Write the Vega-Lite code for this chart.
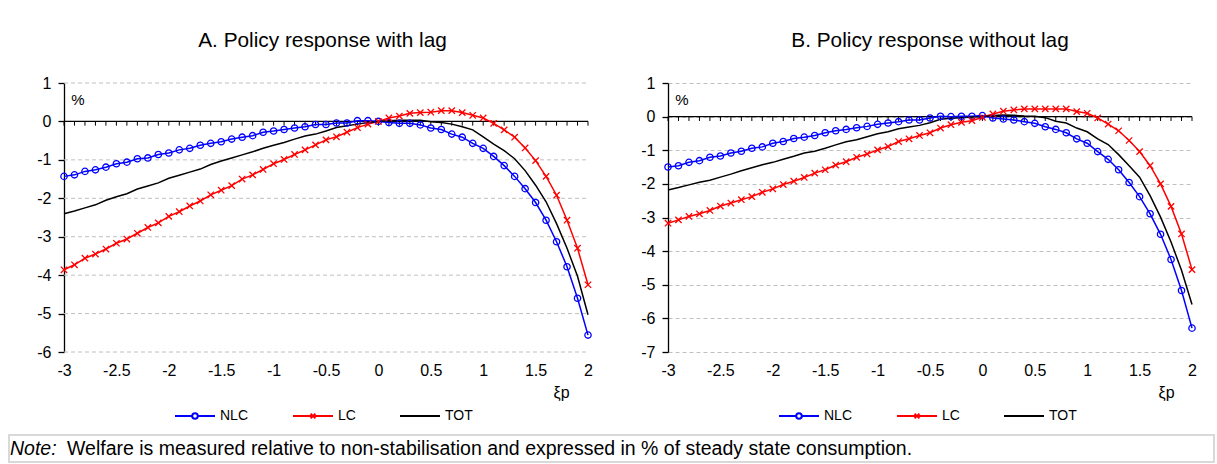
{
  "$schema": "https://vega.github.io/schema/vega-lite/v6.json",
  "background": "white",
  "padding": {"left": 8, "top": 30, "right": 4, "bottom": 2},
  "config": {
    "font": "Liberation Sans",
    "view": {"stroke": null},
    "axis": {"labelFont": "Liberation Sans", "labelFontSize": 16, "labelColor": "black", "titleFont": "Liberation Sans", "titleFontWeight": "normal", "titleColor": "black"},
    "title": {"font": "Liberation Sans", "fontSize": 20.8, "fontWeight": "normal", "color": "black"},
    "legend": {"labelFont": "Liberation Sans", "labelColor": "black"},
    "text": {"font": "Liberation Sans", "color": "black"}
  },
  "datasets": {
    "A": [
      {"x": -3.0, "NLC": -1.43, "LC": -3.86, "TOT": -2.40},
      {"x": -2.9, "NLC": -1.39, "LC": -3.73, "TOT": -2.33},
      {"x": -2.8, "NLC": -1.30, "LC": -3.56, "TOT": -2.25},
      {"x": -2.7, "NLC": -1.26, "LC": -3.45, "TOT": -2.17},
      {"x": -2.6, "NLC": -1.19, "LC": -3.32, "TOT": -2.05},
      {"x": -2.5, "NLC": -1.10, "LC": -3.17, "TOT": -1.96},
      {"x": -2.4, "NLC": -1.06, "LC": -3.06, "TOT": -1.88},
      {"x": -2.3, "NLC": -0.97, "LC": -2.91, "TOT": -1.76},
      {"x": -2.2, "NLC": -0.95, "LC": -2.76, "TOT": -1.68},
      {"x": -2.1, "NLC": -0.86, "LC": -2.64, "TOT": -1.60},
      {"x": -2.0, "NLC": -0.82, "LC": -2.47, "TOT": -1.48},
      {"x": -1.9, "NLC": -0.74, "LC": -2.35, "TOT": -1.40},
      {"x": -1.8, "NLC": -0.70, "LC": -2.20, "TOT": -1.32},
      {"x": -1.7, "NLC": -0.62, "LC": -2.07, "TOT": -1.24},
      {"x": -1.6, "NLC": -0.57, "LC": -1.91, "TOT": -1.12},
      {"x": -1.5, "NLC": -0.53, "LC": -1.79, "TOT": -1.03},
      {"x": -1.4, "NLC": -0.46, "LC": -1.67, "TOT": -0.95},
      {"x": -1.3, "NLC": -0.41, "LC": -1.50, "TOT": -0.87},
      {"x": -1.2, "NLC": -0.37, "LC": -1.39, "TOT": -0.79},
      {"x": -1.1, "NLC": -0.28, "LC": -1.25, "TOT": -0.70},
      {"x": -1.0, "NLC": -0.25, "LC": -1.10, "TOT": -0.62},
      {"x": -0.9, "NLC": -0.21, "LC": -0.99, "TOT": -0.55},
      {"x": -0.8, "NLC": -0.17, "LC": -0.86, "TOT": -0.46},
      {"x": -0.7, "NLC": -0.14, "LC": -0.74, "TOT": -0.38},
      {"x": -0.6, "NLC": -0.08, "LC": -0.61, "TOT": -0.33},
      {"x": -0.5, "NLC": -0.08, "LC": -0.48, "TOT": -0.25},
      {"x": -0.4, "NLC": -0.04, "LC": -0.40, "TOT": -0.16},
      {"x": -0.3, "NLC": -0.04, "LC": -0.28, "TOT": -0.11},
      {"x": -0.2, "NLC": 0.02, "LC": -0.16, "TOT": -0.07},
      {"x": -0.1, "NLC": 0.02, "LC": -0.07, "TOT": -0.03},
      {"x": 0.0, "NLC": 0.00, "LC": 0.00, "TOT": 0.00},
      {"x": 0.1, "NLC": -0.03, "LC": 0.09, "TOT": 0.02},
      {"x": 0.2, "NLC": -0.05, "LC": 0.14, "TOT": 0.03},
      {"x": 0.3, "NLC": -0.05, "LC": 0.21, "TOT": 0.03},
      {"x": 0.4, "NLC": -0.09, "LC": 0.23, "TOT": 0.03},
      {"x": 0.5, "NLC": -0.17, "LC": 0.24, "TOT": -0.01},
      {"x": 0.6, "NLC": -0.21, "LC": 0.28, "TOT": -0.03},
      {"x": 0.7, "NLC": -0.33, "LC": 0.28, "TOT": -0.07},
      {"x": 0.8, "NLC": -0.41, "LC": 0.23, "TOT": -0.14},
      {"x": 0.9, "NLC": -0.57, "LC": 0.16, "TOT": -0.22},
      {"x": 1.0, "NLC": -0.70, "LC": 0.09, "TOT": -0.40},
      {"x": 1.1, "NLC": -0.91, "LC": -0.05, "TOT": -0.59},
      {"x": 1.2, "NLC": -1.15, "LC": -0.22, "TOT": -0.76},
      {"x": 1.3, "NLC": -1.43, "LC": -0.41, "TOT": -0.97},
      {"x": 1.4, "NLC": -1.75, "LC": -0.69, "TOT": -1.28},
      {"x": 1.5, "NLC": -2.11, "LC": -1.02, "TOT": -1.66},
      {"x": 1.6, "NLC": -2.57, "LC": -1.43, "TOT": -2.09},
      {"x": 1.7, "NLC": -3.13, "LC": -1.92, "TOT": -2.66},
      {"x": 1.8, "NLC": -3.78, "LC": -2.57, "TOT": -3.30},
      {"x": 1.9, "NLC": -4.60, "LC": -3.30, "TOT": -4.03},
      {"x": 2.0, "NLC": -5.56, "LC": -4.25, "TOT": -5.03}
    ],
    "B": [
      {"x": -3.0, "NLC": -1.50, "LC": -3.17, "TOT": -2.18},
      {"x": -2.9, "NLC": -1.46, "LC": -3.07, "TOT": -2.11},
      {"x": -2.8, "NLC": -1.36, "LC": -2.97, "TOT": -2.03},
      {"x": -2.7, "NLC": -1.31, "LC": -2.89, "TOT": -1.95},
      {"x": -2.6, "NLC": -1.21, "LC": -2.79, "TOT": -1.89},
      {"x": -2.5, "NLC": -1.17, "LC": -2.66, "TOT": -1.80},
      {"x": -2.4, "NLC": -1.08, "LC": -2.57, "TOT": -1.71},
      {"x": -2.3, "NLC": -1.03, "LC": -2.47, "TOT": -1.61},
      {"x": -2.2, "NLC": -0.94, "LC": -2.38, "TOT": -1.52},
      {"x": -2.1, "NLC": -0.90, "LC": -2.25, "TOT": -1.43},
      {"x": -2.0, "NLC": -0.79, "LC": -2.15, "TOT": -1.36},
      {"x": -1.9, "NLC": -0.74, "LC": -2.02, "TOT": -1.27},
      {"x": -1.8, "NLC": -0.65, "LC": -1.92, "TOT": -1.18},
      {"x": -1.7, "NLC": -0.61, "LC": -1.81, "TOT": -1.08},
      {"x": -1.6, "NLC": -0.56, "LC": -1.68, "TOT": -1.03},
      {"x": -1.5, "NLC": -0.48, "LC": -1.58, "TOT": -0.94},
      {"x": -1.4, "NLC": -0.42, "LC": -1.44, "TOT": -0.84},
      {"x": -1.3, "NLC": -0.38, "LC": -1.34, "TOT": -0.75},
      {"x": -1.2, "NLC": -0.33, "LC": -1.21, "TOT": -0.69},
      {"x": -1.1, "NLC": -0.29, "LC": -1.11, "TOT": -0.60},
      {"x": -1.0, "NLC": -0.23, "LC": -0.99, "TOT": -0.51},
      {"x": -0.9, "NLC": -0.19, "LC": -0.89, "TOT": -0.45},
      {"x": -0.8, "NLC": -0.15, "LC": -0.74, "TOT": -0.36},
      {"x": -0.7, "NLC": -0.10, "LC": -0.66, "TOT": -0.31},
      {"x": -0.6, "NLC": -0.10, "LC": -0.56, "TOT": -0.26},
      {"x": -0.5, "NLC": -0.04, "LC": -0.48, "TOT": -0.18},
      {"x": -0.4, "NLC": 0.01, "LC": -0.34, "TOT": -0.08},
      {"x": -0.3, "NLC": 0.00, "LC": -0.24, "TOT": -0.05},
      {"x": -0.2, "NLC": 0.01, "LC": -0.17, "TOT": -0.03},
      {"x": -0.1, "NLC": 0.01, "LC": -0.12, "TOT": -0.01},
      {"x": 0.0, "NLC": 0.03, "LC": -0.02, "TOT": 0.00},
      {"x": 0.1, "NLC": -0.04, "LC": 0.08, "TOT": 0.03},
      {"x": 0.2, "NLC": -0.07, "LC": 0.16, "TOT": 0.05},
      {"x": 0.3, "NLC": -0.10, "LC": 0.20, "TOT": 0.04},
      {"x": 0.4, "NLC": -0.15, "LC": 0.23, "TOT": 0.02},
      {"x": 0.5, "NLC": -0.20, "LC": 0.23, "TOT": 0.01},
      {"x": 0.6, "NLC": -0.30, "LC": 0.23, "TOT": -0.03},
      {"x": 0.7, "NLC": -0.38, "LC": 0.23, "TOT": -0.14},
      {"x": 0.8, "NLC": -0.48, "LC": 0.23, "TOT": -0.19},
      {"x": 0.9, "NLC": -0.66, "LC": 0.15, "TOT": -0.34},
      {"x": 1.0, "NLC": -0.79, "LC": 0.10, "TOT": -0.45},
      {"x": 1.1, "NLC": -1.04, "LC": -0.04, "TOT": -0.66},
      {"x": 1.2, "NLC": -1.27, "LC": -0.22, "TOT": -0.83},
      {"x": 1.3, "NLC": -1.58, "LC": -0.42, "TOT": -1.13},
      {"x": 1.4, "NLC": -1.96, "LC": -0.71, "TOT": -1.46},
      {"x": 1.5, "NLC": -2.38, "LC": -1.04, "TOT": -1.80},
      {"x": 1.6, "NLC": -2.89, "LC": -1.46, "TOT": -2.35},
      {"x": 1.7, "NLC": -3.50, "LC": -2.00, "TOT": -2.99},
      {"x": 1.8, "NLC": -4.25, "LC": -2.67, "TOT": -3.73},
      {"x": 1.9, "NLC": -5.17, "LC": -3.49, "TOT": -4.57},
      {"x": 2.0, "NLC": -6.29, "LC": -4.55, "TOT": -5.59}
    ]
  },
  "concat": [
    {
      "hconcat": [
        {
          "width": 579,
          "height": 269,
          "title": {"text": "A. Policy response with lag", "frame": "group", "offset": 23, "dx": 24},
          "layer": [
            {
              "data": {"values": [{"g": -6}, {"g": -5}, {"g": -4}, {"g": -3}, {"g": -2}, {"g": -1}, {"g": 1}]},
              "mark": {"type": "rule", "color": "#c0c0c0", "strokeWidth": 1, "strokeDash": [4, 3]},
              "encoding": {
                "x": {"datum": -3, "type": "quantitative", "scale": {"domain": [-3, 2], "range": [55, 579], "nice": false, "zero": false}},
                "x2": {"datum": 2},
                "y": {"field": "g", "type": "quantitative", "scale": {"domain": [-6, 1], "nice": false}}
              }
            },
            {
              "data": {"name": "A"},
              "transform": [{"filter": "datum.x == 2"}],
              "mark": {"type": "rule", "color": "black", "strokeWidth": 1.3},
              "encoding": {
                "x": {"datum": -3, "type": "quantitative", "scale": {"domain": [-3, 2], "range": [55, 579], "nice": false, "zero": false}},
                "x2": {"datum": 2},
                "y": {"datum": 0, "type": "quantitative", "scale": {"domain": [-6, 1], "nice": false}}
              }
            },
            {
              "data": {"name": "A"},
              "mark": {"type": "rule", "color": "black", "strokeWidth": 1},
              "encoding": {
                "x": {"field": "x", "type": "quantitative", "scale": {"domain": [-3, 2], "range": [55, 579], "nice": false, "zero": false}},
                "y": {"datum": 0, "type": "quantitative", "scale": {"domain": [-6, 1], "nice": false}},
                "y2": {"datum": -0.11}
              }
            },
            {
              "data": {"name": "A"},
              "transform": [{"fold": ["NLC", "LC", "TOT"], "as": ["series", "value"]}],
              "mark": {"type": "line", "strokeWidth": 1.5},
              "encoding": {
                "x": {
                  "field": "x", "type": "quantitative",
                  "scale": {"domain": [-3, 2], "range": [55, 579], "nice": false, "zero": false},
                  "axis": {"values": [-3, -2.5, -2, -1.5, -1, -0.5, 0, 0.5, 1, 1.5, 2], "tickCount": 20, "labelExpr": "'' + datum.value", "domain": false, "ticks": false, "grid": false, "labelPadding": 10, "labelFlush": false, "labelOverlap": false, "title": "ξp", "titleFontSize": 16, "titleX": 552, "titleY": 40, "titleAlign": "center", "titleBaseline": "middle"}
                },
                "y": {
                  "field": "value", "type": "quantitative",
                  "scale": {"domain": [-6, 1], "nice": false},
                  "axis": {"values": [-6, -5, -4, -3, -2, -1, 0, 1], "tickCount": 20, "offset": -55, "title": null, "labelExpr": "'' + datum.value", "labelOverlap": false, "domainColor": "black", "domainWidth": 1.3, "tickColor": "black", "tickSize": 6, "tickWidth": 1.3, "labelPadding": 7, "grid": false}
                },
                "color": {
                  "field": "series", "type": "nominal",
                  "scale": {"domain": ["NLC", "LC", "TOT"], "range": ["#0000ff", "#ff0000", "#000000"]},
                  "legend": {
                    "title": null, "orient": "none", "legendX": 165, "legendY": 312, "direction": "horizontal",
                    "symbolSize": 1600, "symbolStrokeWidth": 2, "labelFontSize": 14, "labelOffset": 4, "columnPadding": 40,
                    "encode": {"symbols": {"update": {
                      "shape": {"signal": "datum.value == 'NLC' ? 'M-1,0H-0.14M0.14,0H1M-0.14,0A0.14,0.14,0,1,1,0.14,0A0.14,0.14,0,1,1,-0.14,0' : (datum.value == 'LC' ? 'M-1,0H1M-0.12,-0.12L0.12,0.12M-0.12,0.12L0.12,-0.12' : 'M-1,0H1')"},
                      "fill": {"value": "transparent"}
                    }}}
                  }
                }
              }
            },
            {
              "data": {"name": "A"},
              "transform": [{"fold": ["NLC", "LC"], "as": ["series", "value"]}],
              "mark": {"type": "point", "filled": false, "strokeWidth": 1.3, "size": 40, "opacity": 1},
              "encoding": {
                "x": {"field": "x", "type": "quantitative", "scale": {"domain": [-3, 2], "range": [55, 579], "nice": false, "zero": false}},
                "y": {"field": "value", "type": "quantitative", "scale": {"domain": [-6, 1], "nice": false}},
                "stroke": {"field": "series", "type": "nominal", "scale": {"domain": ["NLC", "LC"], "range": ["#0000ff", "#ff0000"]}, "legend": null},
                "shape": {"field": "series", "type": "nominal", "scale": {"domain": ["NLC", "LC"], "range": ["circle", "M-1,-1L1,1M-1,1L1,-1"]}, "legend": null}
              }
            },
            {
              "data": {"values": [{"t": "%"}]},
              "mark": {"type": "text", "fontSize": 15, "align": "center", "baseline": "middle"},
              "encoding": {
                "x": {"datum": -2.866, "type": "quantitative", "scale": {"domain": [-3, 2], "range": [55, 579], "nice": false, "zero": false}},
                "y": {"datum": 0.55, "type": "quantitative", "scale": {"domain": [-6, 1], "nice": false}},
                "text": {"field": "t"}
              }
            }
          ]
        },
        {
          "width": 524,
          "height": 269,
          "title": {"text": "B. Policy response without lag", "frame": "group", "offset": 23},
          "layer": [
            {
              "data": {"name": "B"},
              "transform": [{"filter": "datum.x == 2"}],
              "mark": {"type": "rule", "color": "black", "strokeWidth": 1.3},
              "encoding": {"y": {"datum": 0, "type": "quantitative", "scale": {"domain": [-7, 1], "nice": false}}}
            },
            {
              "data": {"name": "B"},
              "mark": {"type": "rule", "color": "black", "strokeWidth": 1},
              "encoding": {
                "x": {"field": "x", "type": "quantitative", "scale": {"domain": [-3, 2], "nice": false, "zero": false}},
                "y": {"datum": 0, "type": "quantitative", "scale": {"domain": [-7, 1], "nice": false}},
                "y2": {"datum": -0.13}
              }
            },
            {
              "data": {"name": "B"},
              "transform": [{"fold": ["NLC", "LC", "TOT"], "as": ["series", "value"]}],
              "mark": {"type": "line", "strokeWidth": 1.5},
              "encoding": {
                "x": {
                  "field": "x", "type": "quantitative",
                  "scale": {"domain": [-3, 2], "nice": false, "zero": false},
                  "axis": {"values": [-3, -2.5, -2, -1.5, -1, -0.5, 0, 0.5, 1, 1.5, 2], "tickCount": 20, "labelExpr": "'' + datum.value", "domain": false, "ticks": false, "grid": false, "labelPadding": 10, "labelFlush": false, "labelOverlap": false, "title": "ξp", "titleFontSize": 16, "titleX": 498, "titleY": 40, "titleAlign": "center", "titleBaseline": "middle"}
                },
                "y": {
                  "field": "value", "type": "quantitative",
                  "scale": {"domain": [-7, 1], "nice": false},
                  "axis": {"values": [-7, -6, -5, -4, -3, -2, -1, 0, 1], "tickCount": 20, "title": null, "labelExpr": "'' + datum.value", "labelOverlap": false, "domainColor": "black", "domainWidth": 1.3, "tickColor": "black", "tickSize": 6, "tickWidth": 1.3, "labelPadding": 7, "grid": true, "gridColor": "#c0c0c0", "gridDash": [4, 3], "gridWidth": 1, "minExtent": 40}
                },
                "color": {
                  "field": "series", "type": "nominal",
                  "scale": {"domain": ["NLC", "LC", "TOT"], "range": ["#0000ff", "#ff0000", "#000000"]},
                  "legend": {
                    "title": null, "orient": "none", "legendX": 110, "legendY": 312, "direction": "horizontal",
                    "symbolSize": 1600, "symbolStrokeWidth": 2, "labelFontSize": 14, "labelOffset": 4, "columnPadding": 40,
                    "encode": {"symbols": {"update": {
                      "shape": {"signal": "datum.value == 'NLC' ? 'M-1,0H-0.14M0.14,0H1M-0.14,0A0.14,0.14,0,1,1,0.14,0A0.14,0.14,0,1,1,-0.14,0' : (datum.value == 'LC' ? 'M-1,0H1M-0.12,-0.12L0.12,0.12M-0.12,0.12L0.12,-0.12' : 'M-1,0H1')"},
                      "fill": {"value": "transparent"}
                    }}}
                  }
                }
              }
            },
            {
              "data": {"name": "B"},
              "transform": [{"fold": ["NLC", "LC"], "as": ["series", "value"]}],
              "mark": {"type": "point", "filled": false, "strokeWidth": 1.3, "size": 40, "opacity": 1},
              "encoding": {
                "x": {"field": "x", "type": "quantitative", "scale": {"domain": [-3, 2], "nice": false, "zero": false}},
                "y": {"field": "value", "type": "quantitative", "scale": {"domain": [-7, 1], "nice": false}},
                "stroke": {"field": "series", "type": "nominal", "scale": {"domain": ["NLC", "LC"], "range": ["#0000ff", "#ff0000"]}, "legend": null},
                "shape": {"field": "series", "type": "nominal", "scale": {"domain": ["NLC", "LC"], "range": ["circle", "M-1,-1L1,1M-1,1L1,-1"]}, "legend": null}
              }
            },
            {
              "data": {"values": [{"t": "%"}]},
              "mark": {"type": "text", "fontSize": 15, "align": "center", "baseline": "middle"},
              "encoding": {
                "x": {"datum": -2.866, "type": "quantitative", "scale": {"domain": [-3, 2], "nice": false, "zero": false}},
                "y": {"datum": 0.48, "type": "quantitative", "scale": {"domain": [-7, 1], "nice": false}},
                "text": {"field": "t"}
              }
            }
          ]
        }
      ],
      "spacing": 34,
      "resolve": {"scale": {"color": "independent", "stroke": "independent", "shape": "independent"}, "legend": {"color": "independent"}}
    },
    {
      "width": 1205,
      "height": 27,
      "view": {"stroke": "#d9d9d9", "strokeWidth": 2},
      "data": {"values": [{"a": "Note:", "b": "Welfare is measured relative to non-stabilisation and expressed in % of steady state consumption."}]},
      "layer": [
        {
          "mark": {"type": "text", "align": "left", "baseline": "middle", "fontSize": 19.5, "fontStyle": "italic", "dx": 1},
          "encoding": {
            "x": {"datum": 0, "type": "quantitative", "scale": {"domain": [0, 1]}, "axis": null},
            "y": {"datum": 0.5, "type": "quantitative", "scale": {"domain": [0, 1]}, "axis": null},
            "text": {"field": "a"}
          }
        },
        {
          "mark": {"type": "text", "align": "left", "baseline": "middle", "fontSize": 19.5, "dx": 58},
          "encoding": {
            "x": {"datum": 0, "type": "quantitative", "scale": {"domain": [0, 1]}, "axis": null},
            "y": {"datum": 0.5, "type": "quantitative", "scale": {"domain": [0, 1]}, "axis": null},
            "text": {"field": "b"}
          }
        }
      ]
    }
  ],
  "columns": 1,
  "spacing": 11
}
